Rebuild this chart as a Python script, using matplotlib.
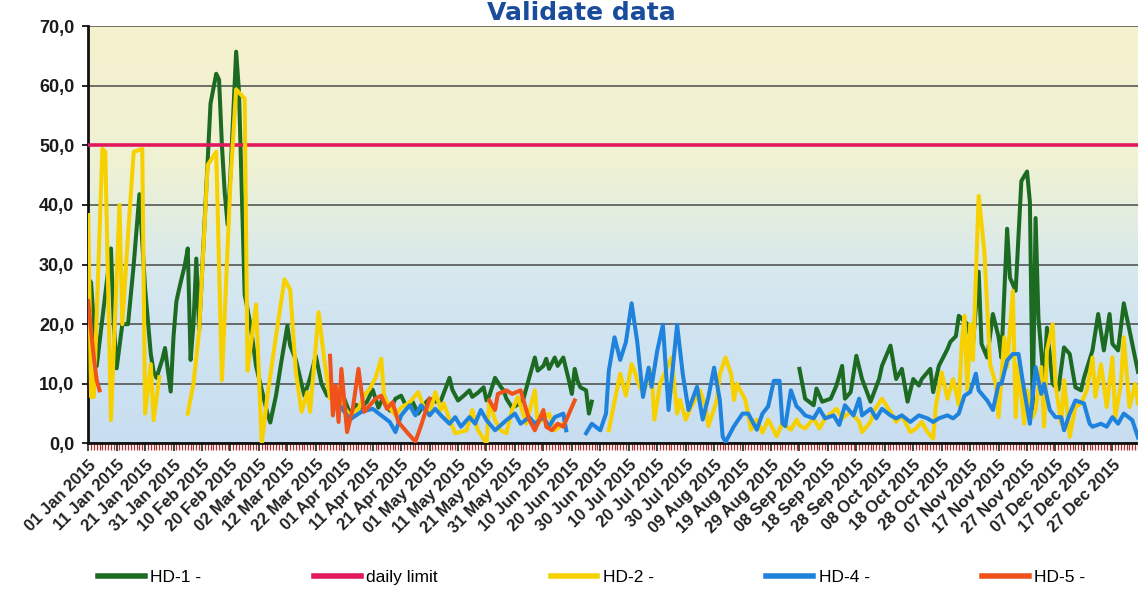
import numpy as np
import pandas as pd
import matplotlib
matplotlib.use('Agg')
import matplotlib.pyplot as plt
import matplotlib.dates as mdates
from matplotlib.colors import LinearSegmentedColormap
from matplotlib.ticker import FuncFormatter

nan = np.nan
start = pd.Timestamp('2015-01-01')

# HD-1 (day of year offset, value)
hd1_days = [0, 1, 3, 4, 6, 8, 9, 10, 12, 14, 16, 18, 20, 22, 23, 24, 26, 27, 29, 30,
            31, 32, 34, 35, 36, 37, 38, 39, 41, 43, 45, 46, 47, 48, 49, 50, 52, 53, 54, 55,
            57, 59, 61, 63, 64, 66, 68, 70, 71, 73, 76, 78, 80, 82, 84, 86, 88, 90, 92, 94,
            96, 98, 100, 102, 104, 106, 108, 110, 112, 114, 116, 118, 120, 122, 124, 127, 128, 130, 132, 134,
            135, 137, 139, 140, 141, 143, 145, 146, 147, 149, 151, 153, 155, 157, 158, 160, 161, 162, 164, 165,
            167, 169, 170, 171, 172, 173, 175, 176, 177, 178,
            250, 252, 255, 256, 258, 261, 263, 265, 266, 268, 270, 272, 275, 278, 279, 282, 284, 286, 288, 290,
            292, 293, 296, 297, 299, 302, 303, 305, 306, 309, 310, 311, 313, 314, 316, 318, 320, 321, 323, 324,
            326, 328, 330, 331, 332, 333, 334, 336, 337, 339, 341, 343, 345, 347, 349, 350, 353, 355, 357, 359,
            360, 362, 364, 366, 369]
hd1_vals = [27.7, 27, 13, 17, 25, 32.7, 20, 12.6, 20, 20, 30, 41.8, 26, 15, 12, 11, 14, 16, 8.7, 18,
            23.8, 26, 30, 32.7, 14, 20, 31, 19, 38, 57, 62, 61, 50, 42, 36.7, 45, 65.7, 59, 42, 25,
            20, 13, 9, 5, 3.5, 8, 14, 19.7, 16.4, 14, 8, 11, 14.7, 10, 8, 9, 6, 7.5, 5, 6.5,
            6, 7, 9, 6, 8, 5.5, 7.5, 8, 6, 7, 5, 6.5, 7.5, 7, 7.2, 11, 9, 7.2, 8, 8.9,
            7.8, 8.5, 9.4, 7.2, 8, 11, 9.5, 8.9, 7.5, 6, 6.5, 7.5, 11, 14.4, 12.2, 13, 14.2, 12.5, 14.4, 13,
            14.4, 10.5, 8.3, 12.5, 10.5, 9.4, 8.9, 5, 7, nan,
            12.5, 7.5, 6.4, 9.2, 7, 7.5, 9.7, 13, 7.5, 8.6, 14.7, 10.8, 7, 10.8, 13, 16.4, 10.8, 12.5, 7, 10.8,
            9.7, 10.8, 12.5, 8.6, 13, 15.8, 17, 18, 21.4, 20, 18, 16.7, 28.8, 16.7, 14.4, 21.7, 17.8, 14.4, 36, 27.8,
            25.6, 44, 45.6, 40.5, 5.6, 37.8, 21, 10, 19.4, 10, 9, 16.1, 15, 9.4, 8.9, 11, 15.6, 21.7, 15.6, 21.7,
            16.7, 15.6, 23.5, 19, 12]

# daily limit
limit_value = 50

# HD-2
hd2_days = [0, 1, 2, 5, 6, 8, 11, 12, 14, 16, 19, 20, 22, 23, 25, 26, 35, 37, 39, 42,
            45, 47, 50, 52, 55, 56, 59, 61, 63, 66, 69, 71, 73, 75, 77, 78, 81, 83, 85, 88,
            90, 92, 95, 97, 99, 101, 103, 104, 106, 108, 110, 113, 116, 118, 120, 122, 124, 125, 127, 129,
            133, 135, 137, 140, 141, 143, 145, 147, 149, 151, 154, 157, 158, 162, 164, 167, 168,
            183, 185, 187, 189, 191, 192, 193, 195, 198, 199, 201, 203, 205, 207, 208, 210, 212, 215, 217,
            218, 221, 222, 224, 226, 227, 228, 231, 233, 235, 237, 239, 242, 244, 247, 249, 250, 252, 255, 257,
            259, 263, 265, 268, 271, 272, 275, 276, 279, 282, 284, 286, 289, 291, 293, 295, 297, 298, 300, 302,
            304, 306, 307, 308, 309, 310, 311, 313, 315, 317, 319, 320, 322, 323, 325, 326, 327, 329, 330, 332,
            333, 335, 336, 337, 339, 340, 342, 343, 345, 347, 349, 351, 353, 354, 356, 358, 360, 361, 363, 364,
            366, 368, 369]
hd2_vals = [38.3, 7.8, 7.8, 49.4, 48.9, 3.9, 40, 20, 35, 48.9, 49.4, 5, 13.3, 3.9, 11.1, nan, 5, 10, 18.9, 46.7,
            48.9, 10.6, 43.9, 59.4, 57.8, 12.2, 23.3, 0, 8, 18, 27.5, 25.8, 12, 5.3, 8.6, 5.3, 22, 14, 7.5, 9.2,
            6, 4.7, 5.8, 8, 9.2, 11, 14.2, 8, 6, 4.7, 6, 6.9, 8.6, 6, 4.7, 8.6, 5.6, 6.7, 4, 1.7,
            2.2, 5.6, 2.2, 0, 7.2, 3.9, 2.2, 1.7, 5.6, 7.8, 3.3, 8.9, 3.3, 5, 2.2, 3.3, nan,
            2.2, 7, 11.7, 8, 13.3, 12.2, 10.5, 8.4, 12.2, 4, 10, 12.2, 14.4, 5, 7.3, 4, 6.2, 8.9, 6.2,
            2.9, 7.3, 11.6, 14.4, 11.6, 7.3, 10, 7.3, 2.3, 4, 1.8, 4, 1.2, 3.4, 2.3, 4, 3, 2.5, 4.2, 2.5,
            4.2, 5.8, 4.2, 5.3, 3.6, 1.9, 3.6, 5.3, 7.5, 5.3, 3.6, 4.7, 1.9, 2.5, 3.6, 1.9, 0.8, 6.4, 11.9, 7.5,
            10.8, 6.4, 16.4, 21.4, 9, 20, 14, 41.5, 32.2, 13.3, 10, 4.4, 17.8, 12.8, 25.6, 4.4, 13.3, 3.3, 8.9, 4.4,
            5.6, 12.8, 2.8, 15.6, 20, 10, 3.3, 10.6, 1.1, 6.1, 6.7, 8.9, 14.4, 7.8, 13.3, 6.1, 14.4, 4.4, 10, 17.8,
            6.1, 10, 6.7]

# HD-4
hd4_days = [89, 92, 96, 100, 103, 106, 108, 110, 113, 115, 117, 120, 122, 124, 127, 129, 131, 134, 136, 138,
            140, 143, 147, 150, 152, 155, 157, 160, 162, 164, 167, 168, 169,
            175, 177, 180, 182, 183, 185, 187, 189, 191, 193, 195, 197, 198, 200, 202, 204, 207, 209, 211,
            214, 216, 218, 220, 222, 223, 224, 227, 230, 232, 235, 237, 239, 241, 243, 244, 245, 247, 249, 250,
            252, 255, 257, 259, 262, 264, 266, 269, 271, 272, 275, 277, 279, 282, 284, 286, 289, 292, 295, 297,
            299, 302, 304, 306, 308, 310, 312, 313, 316, 318, 320, 321, 323, 325, 327, 329, 331, 333, 335, 336,
            338, 340, 342, 343, 345, 347, 350, 352, 353, 356, 358, 360, 362, 364, 367, 369]
hd4_vals = [6, 4, 5.3, 5.8, 4.7, 3.6, 1.9, 4.7, 6.4, 4.7, 6.4, 4.7, 5.8, 4.7, 3.3, 4.4, 2.8, 4.4, 3.3, 5.6,
            3.9, 2.2, 3.9, 5, 3.3, 4.4, 3.3, 4.4, 2.8, 4.4, 5, 2.2, nan,
            1.7, 3.3, 2.2, 5, 12.2, 17.8, 14, 17, 23.5, 17, 7.8, 12.7, 9.5, 15.5, 19.9, 5.6, 19.9, 11.6, 5.6,
            9.5, 4, 7.8, 12.7, 7.3, 1.2, 0.2, 2.9, 5, 5, 2.3, 5, 6.2, 10.5, 10.5, 3.4, 2.9, 8.9, 6.2, 5.8,
            4.7, 4.2, 5.8, 4.2, 4.7, 3.1, 6.4, 4.7, 7.5, 4.7, 5.8, 4.2, 5.8, 4.7, 4.2, 4.7, 3.6, 4.7, 4.2, 3.6,
            4.2, 4.7, 4.2, 5, 8, 8.6, 11.7, 8.9, 7.2, 5.6, 10, 10, 13.9, 15, 15, 8.9, 3.3, 12.8, 8.3, 10,
            5.6, 4.4, 4.4, 2.2, 5, 7.2, 6.7, 3.3, 2.8, 3.3, 2.8, 4.4, 3.3, 5, 3.9, 1]

# HD-5
hd5_days = [0, 1, 2, 3, 4, 5, 85, 86, 87, 88, 89, 91, 93, 95, 97, 99, 101, 103, 105, 107,
            109, 112, 115, 117, 120, 121, 141, 143, 144, 147, 149, 152, 153, 155, 157, 160, 161, 163, 165, 167,
            171]
hd5_vals = [23.9, 18.9, 14.4, 10.6, 8.9, nan, 14.7, 4.7, 9.7, 3.6, 12.5, 1.9, 5.8, 12.5, 5.3, 6.4, 7.5, 8, 5.8, 6.9,
            3.6, 1.9, 0.3, 3, 7.5, nan, 7.2, 5.6, 8.3, 8.9, 8.3, 8.9, 7.2, 4, 2.2, 5.6, 2.8, 2.2, 3.3, 2.8,
            7.2]

series_labels = ['HD-1 -', 'daily limit', 'HD-2 -', 'HD-4 -', 'HD-5 -']
series_colors = ['#1d6a22', '#e0195f', '#f7d000', '#1f82dc', '#f0521c']


def to_dates(days):
    return start + pd.to_timedelta(days, unit='D')


narrow = ['Liberation Sans Narrow', 'Liberation Sans', 'DejaVu Sans']

fig = plt.figure(figsize=(11.38, 5.92), dpi=100)
ax = fig.add_axes([0.0775, 0.251, 0.9225, 0.705])

# background gradient, light blue at the bottom to pale yellow at the top
bg = LinearSegmentedColormap.from_list('bg', [
    (0.0, '#c8def0'), (0.3, '#d1e5f1'), (0.43, '#d9e9ec'),
    (0.55, '#e4eedf'), (0.66, '#eef1d3'), (1.0, '#f6f2cf')])
grad = np.linspace(0, 1, 256).reshape(-1, 1)
ax.imshow(grad, cmap=bg, extent=[0, 1, 0, 1], transform=ax.transAxes,
          aspect='auto', origin='lower', zorder=0)

for yv in range(0, 80, 10):
    ax.axhline(yv, color='#4a4a4a', lw=1.1, zorder=1)

lw = 2.9
ax.plot(to_dates(hd1_days), hd1_vals, color=series_colors[0], lw=lw, label=series_labels[0], zorder=3)
ax.plot([to_dates([0])[0], to_dates([369])[0]], [limit_value, limit_value],
        color=series_colors[1], lw=2.6, label=series_labels[1], zorder=3)
ax.plot(to_dates(hd2_days), hd2_vals, color=series_colors[2], lw=lw, label=series_labels[2], zorder=4)
ax.plot(to_dates(hd4_days), hd4_vals, color=series_colors[3], lw=lw, label=series_labels[3], zorder=5)
ax.plot(to_dates(hd5_days), hd5_vals, color=series_colors[4], lw=lw, label=series_labels[4], zorder=6)

ax.set_xlim(to_dates([0])[0], to_dates([369])[0])
ax.set_ylim(0, 70)

for s in ['top', 'right']:
    ax.spines[s].set_visible(False)
ax.spines['left'].set_linewidth(2)
ax.spines['bottom'].set_linewidth(2)
ax.spines['left'].set_color('#111111')
ax.spines['bottom'].set_color('#111111')

ax.set_yticks(range(0, 80, 10))
ax.yaxis.set_major_formatter(FuncFormatter(lambda v, p: f'{v:.1f}'.replace('.', ',')))
for t in ax.get_yticklabels():
    t.set_fontsize(13)
    t.set_fontweight('bold')
    t.set_family(['Liberation Sans', 'DejaVu Sans'])
    t.set_color('#1a1a1a')
ax.tick_params(axis='y', length=4, width=1.2, pad=6)

xt = pd.date_range('2015-01-01', '2015-12-27', freq='10D')
ax.set_xticks(xt)
ax.set_xticklabels([d.strftime('%d %b %Y') for d in xt], rotation=45, ha='right',
                   rotation_mode='anchor', fontsize=12, fontweight='bold',
                   family=narrow, color='#222222')
ax.xaxis.set_minor_locator(mdates.DayLocator())
ax.tick_params(axis='x', which='major', length=6, width=1.2, pad=4, color='#222222')
ax.tick_params(axis='x', which='minor', length=5, width=0.9, color='#b03030')

fig.text(0.511, 0.967, 'Validate data', ha='center', va='baseline', fontsize=18,
         fontweight='bold', color='#1a4c9c')

leg = fig.legend(loc='center', bbox_to_anchor=(0.52, 0.024), ncol=5, frameon=False,
                 handlelength=2.7, columnspacing=6.5, handletextpad=0.3,
                 prop={'family': narrow, 'size': 12.5})
for h in leg.get_lines():
    h.set_linewidth(4)

fig.savefig('out.png', dpi=100)
